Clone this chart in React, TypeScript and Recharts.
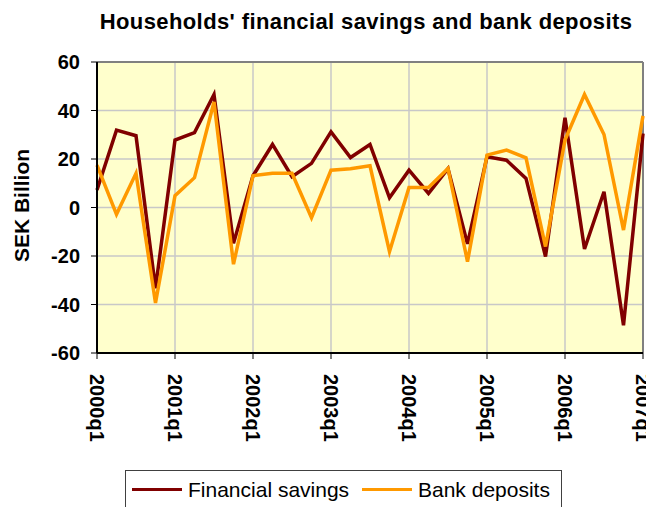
import React from 'react';
import { LineChart, Line, XAxis, YAxis, CartesianGrid, Legend, ReferenceLine } from 'recharts';

const quarters: string[] = [
  '2000q1', '2000q2', '2000q3', '2000q4',
  '2001q1', '2001q2', '2001q3', '2001q4',
  '2002q1', '2002q2', '2002q3', '2002q4',
  '2003q1', '2003q2', '2003q3', '2003q4',
  '2004q1', '2004q2', '2004q3', '2004q4',
  '2005q1', '2005q2', '2005q3', '2005q4',
  '2006q1', '2006q2', '2006q3', '2006q4',
  '2007q1',
];

const financialSavings: number[] = [
  7.2, 31.9, 29.6, -33.3,
  27.8, 30.9, 46.6, -14.7,
  13.1, 26, 12.7, 18.2,
  31.2, 20.6, 26, 4.0,
  15.4, 5.8, 16, -15,
  20.9, 19.5, 12, -20.2,
  37, -17.1, 6.5, -48.6,
  30.5,
];

const bankDeposits: number[] = [
  17.5, -2.8, 14.1, -39.4,
  4.9, 12.3, 43.5, -23.4,
  13.1, 14.1, 14.1, -4.2,
  15.4, 16, 17.2, -18.2,
  8.2, 8.2, 16.1, -22.3,
  21.6, 23.7, 20.5, -16.1,
  27.8, 46.6, 30.1, -9.3,
  37.8,
];

const yTicks: number[] = [-60, -40, -20, 0, 20, 40, 60];
const seriesNames: string[] = ['Financial savings', 'Bank deposits'];
const seriesColors: string[] = ['#800000', '#FF9900'];

const TITLE = "Households' financial savings and bank deposits";
const Y_LABEL = 'SEK Billion';

const data = quarters.map((q, i) => ({
  idx: i,
  q,
  fs: financialSavings[i],
  bd: bankDeposits[i],
}));

const xTicks = quarters.map((q, i) => (q.endsWith('q1') ? i : -1)).filter((i) => i >= 0);

const FONT = "Arial, 'Liberation Sans', sans-serif";

const XTick = (props: any) => {
  const { x, y, payload } = props;
  return (
    <g transform={`translate(${x},${y})`}>
      <text
        transform="rotate(90)"
        x={13}
        y={0}
        dy="0.36em"
        textAnchor="start"
        fontFamily={FONT}
        fontWeight="bold"
        fontSize={20}
        fill="#000"
      >
        {quarters[payload.value]}
      </text>
    </g>
  );
};

const LegendBox = () => (
  <div
    style={{
      width: 437,
      height: 50,
      border: '1px solid #404040',
      boxSizing: 'border-box',
      background: '#fff',
    }}
  >
    <svg width={435} height={48} style={{ display: 'block' }}>
      {[0, 1].map((k) => {
        const x0 = k === 0 ? 6 : 236;
        return (
          <g key={k}>
            <line x1={x0} x2={x0 + 50} y1={18.5} y2={18.5} stroke={seriesColors[k]} strokeWidth={3} />
            <text x={x0 + 56} y={25.5} fontFamily={FONT} fontSize={21} fill="#000">
              {seriesNames[k]}
            </text>
          </g>
        );
      })}
    </svg>
  </div>
);

const YLabel = (props: any) => {
  const vb = props.viewBox || {};
  const cy = (vb.y || 0) + (vb.height || 0) / 2 - 2;
  const cx = 21;
  return (
    <text
      x={cx}
      y={cy}
      transform={`rotate(-90, ${cx}, ${cy})`}
      textAnchor="middle"
      fontFamily={FONT}
      fontWeight="bold"
      fontSize={21}
      fill="#000"
    >
      {Y_LABEL}
    </text>
  );
};

export default function App() {
  return (
    <div style={{ position: 'relative', width: 646, height: 499 }}>
      <div
        style={{
          position: 'absolute',
          top: 3,
          left: 358,
          transform: 'translateX(-50%)',
          whiteSpace: 'nowrap',
          fontFamily: FONT,
          fontWeight: 'bold',
          fontSize: 22,
          letterSpacing: '0.4px',
          lineHeight: '22px',
          color: '#000',
          zIndex: 2,
        }}
      >
        {TITLE}
      </div>
      <LineChart
        width={646}
        height={499}
        data={data}
        margin={{ top: 54, right: 11, left: 0, bottom: 64 }}
      >
        <CartesianGrid stroke="#c8c8c8" strokeWidth={1.5} fill="#FFFFCC" />
        <ReferenceLine y={60} stroke="#808080" strokeWidth={2} />
        <ReferenceLine x={28} stroke="#808080" strokeWidth={2} />
        <XAxis
          type="number"
          dataKey="idx"
          domain={[0, quarters.length - 1]}
          ticks={xTicks}
          interval={0}
          tick={<XTick />}
          tickSize={6}
          tickMargin={2}
          height={90}
          axisLine={{ stroke: '#000', strokeWidth: 2 }}
          tickLine={{ stroke: '#000', strokeWidth: 1 }}
        />
        <YAxis
          type="number"
          domain={[-60, 60]}
          ticks={yTicks}
          interval={0}
          width={89}
          tickSize={6}
          tickMargin={11}
          axisLine={{ stroke: '#000', strokeWidth: 2 }}
          tickLine={{ stroke: '#000', strokeWidth: 1 }}
          tick={{ fontFamily: FONT, fontWeight: 'bold', fontSize: 20, fill: '#000' }}
          label={<YLabel />}
        />
        <Line
          type="linear"
          dataKey="fs"
          name={seriesNames[0]}
          stroke={seriesColors[0]}
          strokeWidth={3.5}
          dot={false}
          activeDot={false}
          isAnimationActive={false}
        />
        <Line
          type="linear"
          dataKey="bd"
          name={seriesNames[1]}
          stroke={seriesColors[1]}
          strokeWidth={3.5}
          dot={false}
          activeDot={false}
          isAnimationActive={false}
        />
        <Legend
          verticalAlign="middle"
          layout="horizontal"
          content={<LegendBox />}
          wrapperStyle={{ position: 'absolute', left: 117, top: 462, width: 437, height: 50 }}
        />
      </LineChart>
    </div>
  );
}
